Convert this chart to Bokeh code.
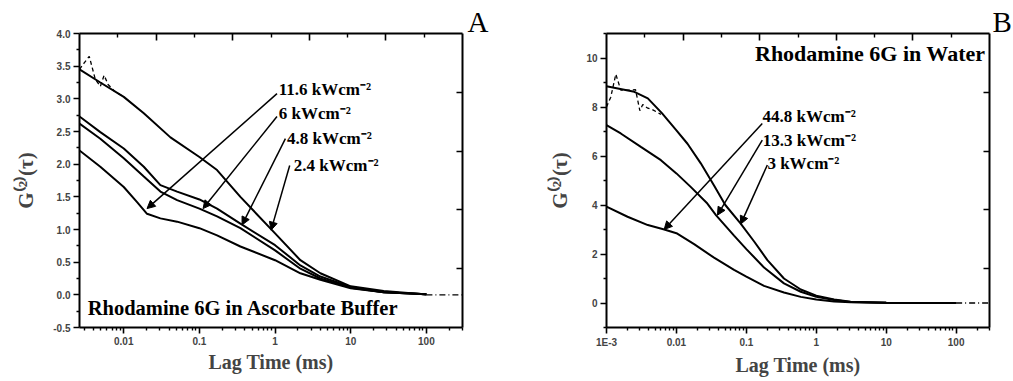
import math
from bokeh.plotting import figure
from bokeh.layouts import row
from bokeh.models import (LogAxis, LinearAxis, FixedTicker, Arrow, NormalHead,
                          Title, Range1d, ColumnDataSource, NumeralTickFormatter)
from bokeh.core.properties import value
from bokeh.embed import file_html
from bokeh.resources import INLINE

SERIF = "Liberation Serif"
SANS = "Liberation Sans"

# ---------------- Panel A : Rhodamine 6G in Ascorbate Buffer ----------------
a_x_24 = [0.0026, 0.0049, 0.01, 0.0184, 0.0414, 0.1, 0.171, 0.348, 1.0, 2.16, 3.97, 10, 27.3, 100]
a_y_24 = [3.45, 3.25, 3.03, 2.78, 2.41, 2.11, 1.91, 1.50, 0.94, 0.53, 0.33, 0.13, 0.06, 0.005]
a_x_48 = [0.0026, 0.0049, 0.01, 0.0184, 0.0305, 0.0507, 0.1, 0.171, 0.348, 1.0, 2.16, 3.97, 10, 27.3, 100]
a_y_48 = [2.73, 2.49, 2.24, 1.96, 1.68, 1.58, 1.46, 1.32, 1.09, 0.76, 0.45, 0.28, 0.12, 0.04, 0.01]
a_x_6 = [0.0026, 0.0049, 0.01, 0.0184, 0.0305, 0.0507, 0.1, 0.171, 0.348, 1.0, 2.16, 3.97, 10, 27.3, 100]
a_y_6 = [2.62, 2.39, 2.09, 1.81, 1.58, 1.45, 1.32, 1.20, 1.02, 0.68, 0.40, 0.25, 0.11, 0.04, 0.01]
a_x_116 = [0.0026, 0.0049, 0.01, 0.015, 0.0203, 0.0305, 0.0507, 0.1, 0.171, 0.348, 1.0, 2.16, 3.97, 10, 27.3, 100]
a_y_116 = [2.21, 1.96, 1.65, 1.42, 1.24, 1.17, 1.12, 1.02, 0.91, 0.74, 0.53, 0.33, 0.23, 0.10, 0.04, 0.01]
# noisy raw data at early lag times (dashed) and the tail (dash-dot)
a_raw_x = [0.0026, 0.0030, 0.0035, 0.0042, 0.0049, 0.0055, 0.0062, 0.0075, 0.01]
a_raw_y = [3.45, 3.55, 3.65, 3.30, 3.19, 3.36, 3.22, 3.12, 3.03]
a_tail_x = [100, 300]
a_tail_y = [0.0, 0.0]

a_labels = ["11.6 kWcm\u207b\u00b2", "6  kWcm\u207b\u00b2", "4.8 kWcm\u207b\u00b2", "2.4 kWcm\u207b\u00b2"]
a_label_x = [1.12, 1.12, 1.44, 1.77]
a_label_y = [3.14, 2.78, 2.39, 1.98]
a_arrow_x0 = [1.06, 1.06, 1.37, 1.56]
a_arrow_y0 = [3.08, 2.73, 2.39, 1.98]
a_arrow_x1 = [0.0203, 0.1117, 0.366, 0.885]
a_arrow_y1 = [1.32, 1.32, 1.07, 0.99]
a_title = "Rhodamine 6G in Ascorbate Buffer"
a_yticks = [-0.5, 0.0, 0.5, 1.0, 1.5, 2.0, 2.5, 3.0, 3.5, 4.0]
a_xticks = [0.01, 0.1, 1, 10, 100]
a_xtick_labels = ["0.01", "0.1", "1", "10", "100"]

# ---------------- Panel B : Rhodamine 6G in Water ----------------
b_x_3 = [0.001, 0.0025, 0.0039, 0.0062, 0.01, 0.0144, 0.0223, 0.0345, 0.05, 0.083, 0.13, 0.2, 0.345, 0.6, 1.0, 1.8, 3.1, 10, 100]
b_y_3 = [8.85, 8.62, 8.35, 7.75, 7.05, 6.5, 5.7, 4.8, 4.0, 3.24, 2.5, 1.75, 1.0, 0.55, 0.30, 0.14, 0.05, 0.01, 0.0]
b_x_133 = [0.001, 0.0016, 0.0031, 0.006, 0.01, 0.016, 0.0277, 0.037, 0.0667, 0.1, 0.179, 0.345, 0.6, 1.0, 1.8, 3.1, 10, 100]
b_y_133 = [7.26, 6.92, 6.37, 5.83, 5.29, 4.74, 4.06, 3.58, 2.75, 2.2, 1.45, 0.80, 0.46, 0.25, 0.12, 0.04, 0.01, 0.0]
b_x_448 = [0.001, 0.002, 0.0039, 0.0067, 0.01, 0.0179, 0.0345, 0.0667, 0.1, 0.179, 0.345, 0.6, 1.0, 1.8, 3.1, 10, 100]
b_y_448 = [3.93, 3.52, 3.18, 3.0, 2.85, 2.4, 1.85, 1.35, 1.08, 0.70, 0.43, 0.25, 0.14, 0.06, 0.03, 0.01, 0.0]
b_raw_x = [0.001, 0.00115, 0.00136, 0.0016, 0.0021, 0.0026, 0.003, 0.0033, 0.0039, 0.0045, 0.006]
b_raw_y = [8.0, 8.4, 9.34, 8.69, 8.69, 8.71, 7.85, 8.1, 7.95, 7.9, 7.7]
b_tail_x = [100, 300]
b_tail_y = [0.0, 0.0]

b_labels = ["44.8 kWcm\u207b\u00b2", "13.3 kWcm\u207b\u00b2", "3 kWcm\u207b\u00b2"]
b_label_x = [0.17, 0.172, 0.2]
b_label_y = [7.6, 6.65, 5.7]
b_arrow_x0 = [0.169, 0.169, 0.1995]
b_arrow_y0 = [7.33, 6.65, 5.63]
b_arrow_x1 = [0.00667, 0.0386, 0.083]
b_arrow_y1 = [3.0, 3.585, 3.22]
b_title = "Rhodamine 6G in Water"
b_yticks = [0, 2, 4, 6, 8, 10]
b_xticks = [0.001, 0.01, 0.1, 1, 10, 100]
b_xtick_labels = ["1E-3", "0.01", "0.1", "1", "10", "100"]

X_TITLE = "Lag Time (ms)"
Y_TITLE = "G\u207d\u00b2\u207e(\u03c4)"

H = 381
FT, FB = 33, 327  # frame top / bottom (px)


def style_axis(ax):
    ax.axis_line_width = 2
    ax.major_tick_line_width = 1.6
    ax.minor_tick_line_width = 1.4
    ax.axis_line_color = "black"
    ax.major_tick_line_color = "black"
    ax.minor_tick_line_color = "black"


def build(width, fl, fr, xr, yr, yticks, yminor, yfmt, xticks, xlabels,
          ylab_standoff, letter, letter_offset):
    p = figure(width=width, height=H, x_axis_type="log", title=None,
               x_range=Range1d(*xr), y_range=Range1d(*yr),
               output_backend="svg", toolbar_location=None,
               min_border_left=fl, min_border_right=width - fr,
               min_border_top=FT, min_border_bottom=H - FB)
    p.xgrid.visible = False
    p.ygrid.visible = False
    p.outline_line_color = None

    lo, hi = math.log10(xr[0]), math.log10(xr[1])
    minors = []
    for d in range(math.floor(lo), math.ceil(hi) + 1):
        for k in range(2, 10):
            v = k * 10.0 ** d
            if xr[0] <= v <= xr[1]:
                minors.append(v)
    xa = p.xaxis[0]
    xa.ticker = FixedTicker(ticks=xticks, minor_ticks=minors)
    xa.major_label_overrides = {t: l for t, l in zip(xticks, xlabels)}
    xa.major_tick_out = 6
    xa.major_tick_in = 0
    xa.minor_tick_out = 3
    xa.minor_tick_in = 0
    xa.major_label_text_font = SANS
    xa.major_label_text_font_style = "bold"
    xa.major_label_text_font_size = "10px"
    xa.major_label_standoff = 3
    xa.axis_label = X_TITLE
    xa.axis_label_text_font = SERIF
    xa.axis_label_text_font_style = "bold"
    xa.axis_label_text_font_size = "20px"
    xa.axis_label_standoff = 3
    style_axis(xa)

    ya = p.yaxis[0]
    ya.ticker = FixedTicker(ticks=yticks, minor_ticks=yminor)
    ya.formatter = NumeralTickFormatter(format=yfmt)
    ya.major_tick_out = 6
    ya.major_tick_in = 0
    ya.minor_tick_out = 3
    ya.minor_tick_in = 0
    ya.major_label_text_font = SANS
    ya.major_label_text_font_style = "bold"
    ya.major_label_text_font_size = "10px"
    ya.major_label_standoff = 3
    ya.axis_label = Y_TITLE
    ya.axis_label_text_font = SERIF
    ya.axis_label_text_font_style = "bold"
    ya.axis_label_text_font_size = "21px"
    ya.axis_label_standoff = ylab_standoff
    style_axis(ya)

    # mirrored top axis: 10 equal divisions, alternate long / short
    top_long = [10 ** (lo + k * (hi - lo) / 10) for k in (2, 4, 6, 8)]
    top_short = [10 ** (lo + k * (hi - lo) / 10) for k in (1, 3, 5, 7, 9)]
    ta = LogAxis(ticker=FixedTicker(ticks=top_long, minor_ticks=top_short))
    ta.major_label_overrides = {t: "" for t in top_long}
    ta.major_label_text_font_size = "0px"
    ta.major_tick_in = 7
    ta.major_tick_out = 0
    ta.minor_tick_in = 4
    ta.minor_tick_out = 0
    ta.major_label_standoff = 0
    style_axis(ta)
    p.add_layout(ta, "above")

    # mirrored right axis: 5 equal divisions
    r_ticks = [yr[0] + k * (yr[1] - yr[0]) / 5 for k in (1, 2, 3, 4)]
    ra = LinearAxis(ticker=FixedTicker(ticks=r_ticks, minor_ticks=[]))
    ra.major_label_overrides = {t: "" for t in r_ticks}
    ra.major_label_text_font_size = "0px"
    ra.major_tick_in = 6
    ra.major_tick_out = 0
    ra.minor_tick_in = 0
    ra.minor_tick_out = 0
    ra.major_label_standoff = 0
    style_axis(ra)
    p.add_layout(ra, "right")

    # panel letter, above the top right corner
    p.add_layout(Title(text=letter, align="left", offset=letter_offset,
                       text_font=SERIF, text_font_style="normal", text_font_size="29px",
                       text_color="black", standoff=-8, vertical_align="bottom"), "above")
    return p


def add_text_and_arrows(p, lx, ly, labels, x0, y0, x1, y1):
    p.text(x=lx, y=ly, text=labels, text_font=value(SERIF), text_font_style="bold",
           text_font_size="17px", text_baseline="middle", text_align="left",
           text_color="black")
    src = ColumnDataSource(dict(x0=x0, y0=y0, x1=x1, y1=y1))
    p.add_layout(Arrow(source=src, x_start="x0", y_start="y0", x_end="x1", y_end="y1",
                       line_width=1.5, line_color="black",
                       end=NormalHead(size=8, fill_color="black", line_color="black",
                                      line_width=1)))


# ---------- Panel A ----------
pa = build(500, 79, 462, (0.0026, 300), (-0.5, 4.0), a_yticks,
           [-0.25, 0.25, 0.75, 1.25, 1.75, 2.25, 2.75, 3.25, 3.75], "0.0",
           a_xticks, a_xtick_labels, 12, "A", 388)
for xs, ys in [(a_x_24, a_y_24), (a_x_48, a_y_48), (a_x_6, a_y_6), (a_x_116, a_y_116)]:
    pa.line(xs, ys, line_color="black", line_width=2)
pa.line(a_raw_x, a_raw_y, line_color="black", line_width=1.3, line_dash="4 3")
pa.line(a_tail_x, a_tail_y, line_color="black", line_width=1.3, line_dash="6 3 1 3")
add_text_and_arrows(pa, a_label_x, a_label_y, a_labels,
                    a_arrow_x0, a_arrow_y0, a_arrow_x1, a_arrow_y1)
pa.text(x=[0.00334], y=[-0.2], text=[a_title], text_font=value(SERIF),
        text_font_style="bold", text_font_size="20.5px", text_baseline="middle",
        text_align="left", text_color="black")

# ---------- Panel B ----------
pb = build(513, 106, 489, (0.001, 300), (-1.0, 11.0), b_yticks,
           [-1, 1, 3, 5, 7, 9, 11], "0",
           b_xticks, b_xtick_labels, 11, "B", 386)
for xs, ys in [(b_x_3, b_y_3), (b_x_133, b_y_133), (b_x_448, b_y_448)]:
    pb.line(xs, ys, line_color="black", line_width=2)
pb.line(b_raw_x, b_raw_y, line_color="black", line_width=1.3, line_dash="4 3")
pb.line(b_tail_x, b_tail_y, line_color="black", line_width=1.3, line_dash="6 3 1 3")
add_text_and_arrows(pb, b_label_x, b_label_y, b_labels,
                    b_arrow_x0, b_arrow_y0, b_arrow_x1, b_arrow_y1)
pb.text(x=[262], y=[10.18], text=[b_title], text_font=value(SERIF),
        text_font_style="bold", text_font_size="22px", text_baseline="middle",
        text_align="right", text_color="black")

layout = row(pa, pb)
open("out.html", "w").write(file_html(layout, INLINE))
